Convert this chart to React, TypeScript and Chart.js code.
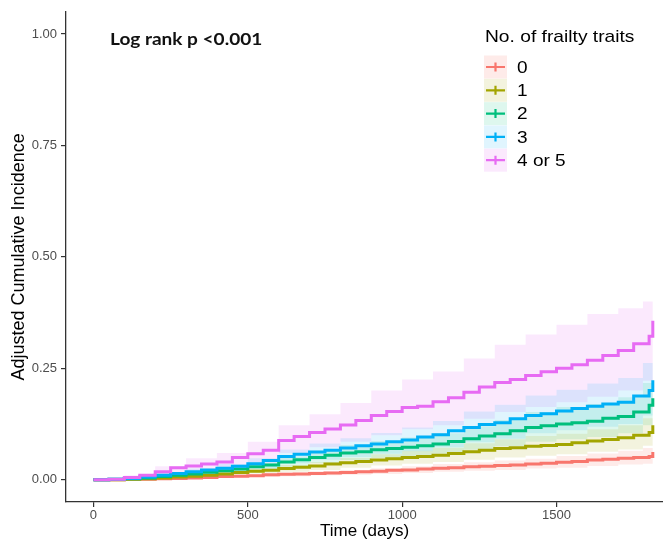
import React, { useEffect, useRef } from "react";
import { Chart, registerables } from "chart.js";

Chart.register(...registerables);

const groups = ["0", "1", "2", "3", "4 or 5"];
const colors = ["#F8766D", "#A3A500", "#00BF7D", "#00B0F6", "#E76BF3"];
const bandColors = [
  "rgba(248,118,109,0.15)",
  "rgba(163,165,0,0.13)",
  "rgba(0,191,125,0.13)",
  "rgba(0,176,246,0.12)",
  "rgba(231,107,243,0.15)",
];

const times = [0, 50, 100, 150, 200, 250, 300, 350, 400, 450, 500, 550, 600, 650, 700, 750, 800, 850, 900, 950, 1000, 1050, 1100, 1150, 1200, 1250, 1300, 1350, 1400, 1450, 1500, 1550, 1600, 1650, 1700, 1750, 1800, 1812];

const inc0 = [0, 0, 0.001, 0.001, 0.002, 0.003, 0.004, 0.005, 0.007, 0.008, 0.009, 0.011, 0.012, 0.013, 0.014, 0.015, 0.016, 0.018, 0.019, 0.021, 0.022, 0.024, 0.026, 0.027, 0.029, 0.030, 0.032, 0.033, 0.035, 0.037, 0.039, 0.041, 0.044, 0.046, 0.048, 0.050, 0.052, 0.062];
const inc1 = [0, 0, 0.001, 0.002, 0.004, 0.006, 0.008, 0.010, 0.013, 0.016, 0.019, 0.021, 0.025, 0.028, 0.031, 0.035, 0.038, 0.041, 0.044, 0.047, 0.050, 0.052, 0.055, 0.059, 0.063, 0.066, 0.070, 0.072, 0.075, 0.077, 0.079, 0.083, 0.087, 0.090, 0.094, 0.100, 0.106, 0.122];
const inc2 = [0, 0.001, 0.002, 0.004, 0.007, 0.010, 0.013, 0.017, 0.020, 0.024, 0.029, 0.033, 0.040, 0.045, 0.050, 0.055, 0.060, 0.063, 0.067, 0.070, 0.073, 0.076, 0.080, 0.086, 0.092, 0.098, 0.103, 0.110, 0.117, 0.121, 0.125, 0.128, 0.131, 0.138, 0.142, 0.152, 0.167, 0.183];
const inc3 = [0, 0.001, 0.003, 0.006, 0.010, 0.014, 0.018, 0.022, 0.026, 0.030, 0.036, 0.043, 0.052, 0.057, 0.062, 0.066, 0.071, 0.076, 0.080, 0.085, 0.089, 0.096, 0.101, 0.110, 0.117, 0.124, 0.128, 0.137, 0.144, 0.148, 0.154, 0.160, 0.165, 0.170, 0.174, 0.188, 0.200, 0.223];
const inc4 = [0, 0.001, 0.005, 0.010, 0.018, 0.027, 0.031, 0.035, 0.040, 0.050, 0.058, 0.066, 0.088, 0.097, 0.106, 0.114, 0.123, 0.133, 0.144, 0.153, 0.162, 0.165, 0.175, 0.184, 0.196, 0.208, 0.218, 0.225, 0.234, 0.242, 0.250, 0.258, 0.268, 0.279, 0.290, 0.305, 0.322, 0.357];

const ciTimes = [0, 100, 200, 300, 400, 500, 600, 700, 800, 900, 1000, 1100, 1200, 1300, 1400, 1500, 1600, 1700, 1780, 1812];
const lo0 = [0, 0.001, 0.001, 0.003, 0.005, 0.006, 0.008, 0.010, 0.011, 0.013, 0.015, 0.018, 0.020, 0.022, 0.025, 0.027, 0.031, 0.034, 0.036, 0.043];
const hi0 = [0, 0.002, 0.003, 0.006, 0.010, 0.013, 0.016, 0.019, 0.022, 0.026, 0.030, 0.035, 0.039, 0.043, 0.047, 0.053, 0.059, 0.065, 0.071, 0.085];
const lo1 = [0, 0.001, 0.003, 0.006, 0.009, 0.014, 0.018, 0.022, 0.027, 0.032, 0.036, 0.040, 0.045, 0.050, 0.054, 0.057, 0.063, 0.068, 0.076, 0.085];
const hi1 = [0, 0.002, 0.006, 0.011, 0.017, 0.025, 0.033, 0.040, 0.049, 0.057, 0.065, 0.072, 0.082, 0.091, 0.098, 0.103, 0.113, 0.122, 0.138, 0.155];
const lo2 = [0, 0.001, 0.005, 0.009, 0.015, 0.021, 0.029, 0.037, 0.044, 0.049, 0.053, 0.058, 0.067, 0.075, 0.085, 0.091, 0.096, 0.104, 0.122, 0.134];
const hi2 = [0, 0.003, 0.010, 0.018, 0.027, 0.038, 0.052, 0.065, 0.078, 0.087, 0.095, 0.104, 0.120, 0.134, 0.152, 0.163, 0.170, 0.185, 0.217, 0.238];
const lo3 = [0, 0.002, 0.007, 0.013, 0.019, 0.026, 0.037, 0.045, 0.051, 0.058, 0.064, 0.073, 0.084, 0.092, 0.104, 0.111, 0.119, 0.125, 0.144, 0.160];
const hi3 = [0, 0.005, 0.015, 0.025, 0.035, 0.048, 0.068, 0.081, 0.093, 0.105, 0.117, 0.132, 0.153, 0.168, 0.189, 0.202, 0.216, 0.228, 0.262, 0.285];
const lo4 = [0, 0.002, 0.009, 0.018, 0.025, 0.038, 0.060, 0.073, 0.085, 0.100, 0.113, 0.122, 0.137, 0.152, 0.163, 0.174, 0.186, 0.200, 0.222, 0.245];
const hi4 = [0, 0.010, 0.030, 0.048, 0.060, 0.085, 0.122, 0.147, 0.172, 0.200, 0.225, 0.243, 0.272, 0.303, 0.326, 0.348, 0.372, 0.385, 0.400, 0.445];

const xTicks = [0, 500, 1000, 1500];
const yTicks = [0, 0.25, 0.5, 0.75, 1];
const annotationText = "Log rank p <0.001";
const legendTitle = "No. of frailty traits";
const xTitle = "Time (days)";
const yTitle = "Adjusted Cumulative Incidence";

const lines = [inc0, inc1, inc2, inc3, inc4];
const lows = [lo0, lo1, lo2, lo3, lo4];
const highs = [hi0, hi1, hi2, hi3, hi4];

const toPoints = (xs: number[], ys: number[]) => xs.map((x, i) => ({ x, y: ys[i] }));

const wideText = (ctx: CanvasRenderingContext2D, text: string, x: number, y: number, sx: number) => {
  ctx.save();
  ctx.translate(x, y);
  ctx.scale(sx, 1);
  ctx.fillText(text, 0, 0);
  ctx.restore();
};

const overlayPlugin = {
  id: "overlay",
  afterDraw(chart: any) {
    const ctx = chart.ctx as CanvasRenderingContext2D;
    ctx.save();
    ctx.fillStyle = "#111";
    ctx.font = 'bold 17px "Lato", "Open Sans", sans-serif';
    ctx.textBaseline = "middle";
    ctx.textAlign = "left";
    wideText(ctx, annotationText, 110, 40, 1.12);
    const lx = 484;
    ctx.font = '17px "Liberation Sans", Arial, sans-serif';
    ctx.fillStyle = "#000";
    wideText(ctx, legendTitle, lx + 1, 37, 1.13);
    groups.forEach((g, i) => {
      const yc = 67 + i * 23.3;
      ctx.fillStyle = bandColors[i];
      ctx.fillRect(lx, yc - 11.5, 23, 23);
      ctx.strokeStyle = colors[i];
      ctx.lineWidth = 2.2;
      ctx.beginPath();
      ctx.moveTo(lx + 2, yc);
      ctx.lineTo(lx + 21, yc);
      ctx.moveTo(lx + 11.5, yc - 4.5);
      ctx.lineTo(lx + 11.5, yc + 4.5);
      ctx.stroke();
      ctx.fillStyle = "#000";
      ctx.font = '17px "Liberation Sans", Arial, sans-serif';
      wideText(ctx, g, lx + 33, yc + 1, 1.12);
    });
    ctx.restore();
  },
};

export default function App() {
  const ref = useRef<HTMLCanvasElement | null>(null);
  useEffect(() => {
    if (!ref.current) return;
    const datasets: any[] = [];
    groups.forEach((g, i) => {
      datasets.push({
        label: g + " lower",
        data: toPoints(ciTimes, lows[i]),
        borderWidth: 0,
        borderColor: "rgba(0,0,0,0)",
        pointRadius: 0,
        stepped: true,
        fill: false,
        order: 10,
      });
      datasets.push({
        label: g + " upper",
        data: toPoints(ciTimes, highs[i]),
        borderWidth: 0,
        borderColor: "rgba(0,0,0,0)",
        backgroundColor: bandColors[i],
        pointRadius: 0,
        stepped: true,
        fill: "-1",
        order: 10,
      });
    });
    groups.forEach((g, i) => {
      datasets.push({
        label: g,
        data: toPoints(times, lines[i]),
        borderColor: colors[i],
        borderWidth: 3,
        pointRadius: 0,
        stepped: true,
        fill: false,
        order: 5 - i,
      });
    });
    const chart = new Chart(ref.current, {
      type: "line",
      data: { datasets },
      plugins: [overlayPlugin],
      options: {
        animation: false,
        responsive: false,
        events: [],
        layout: { padding: { top: 10, right: 0, left: 0, bottom: 0 } },
        plugins: { legend: { display: false }, tooltip: { enabled: false } },
        scales: {
          x: {
            type: "linear",
            min: -89,
            max: 1845,
            afterFit: (s: any) => { s.height = 42; },
            afterBuildTicks: (s: any) => { s.ticks = xTicks.map((v) => ({ value: v })); },
            border: { display: true, color: "#333", width: 1.3 },
            grid: { drawOnChartArea: false, drawTicks: true, tickLength: 5, color: "#333", lineWidth: 1.2 },
            ticks: {
              color: "#4D4D4D",
              padding: 1,
              maxRotation: 0,
              font: { family: '"Liberation Sans", Arial, sans-serif', size: 13 },
              callback: (v: any) => String(v),
            },
            title: {
              display: true,
              text: xTitle,
              color: "#000",
              padding: { top: 0, bottom: 2 },
              font: { family: '"Liberation Sans", Arial, sans-serif', size: 17 },
            },
          },
          y: {
            type: "linear",
            min: -0.05,
            max: 1.05,
            afterFit: (s: any) => { s.width = 66; },
            afterBuildTicks: (s: any) => { s.ticks = yTicks.map((v) => ({ value: v })); },
            border: { display: true, color: "#333", width: 1.3 },
            grid: { drawOnChartArea: false, drawTicks: true, tickLength: 5, color: "#333", lineWidth: 1.2 },
            ticks: {
              color: "#4D4D4D",
              padding: 4,
              font: { family: '"Liberation Sans", Arial, sans-serif', size: 13 },
              callback: (v: any) => Number(v).toFixed(2),
            },
            title: {
              display: true,
              text: yTitle,
              color: "#000",
              padding: { top: 8, bottom: 0 },
              font: { family: '"Liberation Sans", Arial, sans-serif', size: 18 },
            },
          },
        },
      },
    });
    return () => chart.destroy();
  }, []);
  return (
    <div style={{ position: "absolute", left: 0, top: 0, width: 663, height: 544, background: "#fff" }}>
      <canvas ref={ref} width={663} height={544} style={{ width: 663, height: 544 }} />
    </div>
  );
}
